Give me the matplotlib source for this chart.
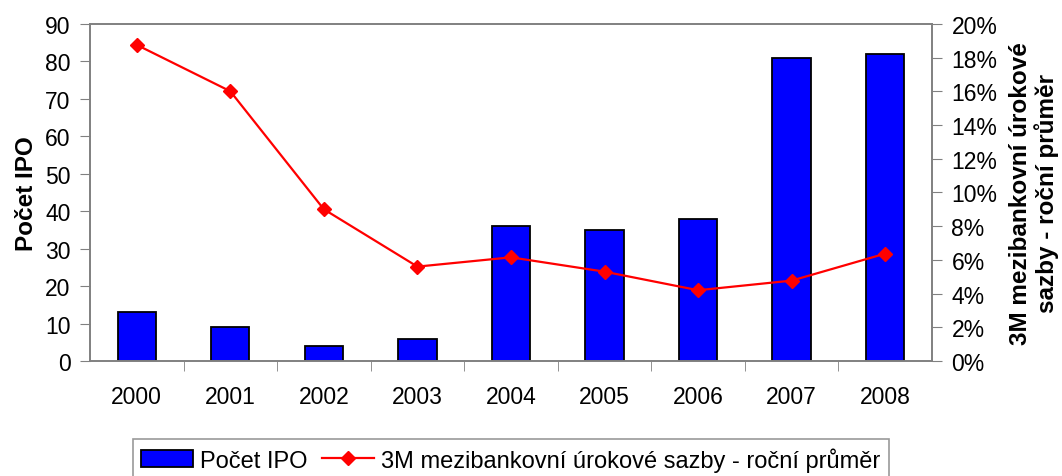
import matplotlib.pyplot as plt
import numpy as np
from matplotlib.ticker import FuncFormatter

plt.rcParams['font.family'] = ['Liberation Sans', 'DejaVu Sans']

years = ['2000', '2001', '2002', '2003', '2004', '2005', '2006', '2007', '2008']
ipo_count = [13, 9, 4, 6, 36, 35, 38, 81, 82]
rate_pct = [18.75, 16.0, 9.0, 5.6, 6.15, 5.3, 4.2, 4.77, 6.37]

grey = '#808080'
x = np.arange(len(years))

fig = plt.figure(figsize=(10.62, 4.77), dpi=100)
ax = fig.add_axes([0.0847, 0.241, 0.7929, 0.707])
bars = ax.bar(x, ipo_count, width=0.41, color='#0000ff', edgecolor='black',
              linewidth=1.3, label='Počet IPO', zorder=2)
ax.set_xlim(-0.5, len(years) - 0.5)
ax.set_ylim(0, 90)
ax.set_yticks(range(0, 91, 10))
ax.set_xticks(x)
ax.set_xticklabels(years)
ax.set_xticks(x[:-1] + 0.5, minor=True)
ax.tick_params(axis='x', which='major', length=0, labelsize=16.5, pad=17)
ax.tick_params(axis='x', which='minor', length=7, color=grey, direction='out')
ax.tick_params(axis='y', length=7, color=grey, labelsize=16.5, direction='out', pad=7)
ax.set_ylabel('Počet IPO', fontsize=17.5, fontweight='bold', labelpad=5)
for s in ax.spines.values():
    s.set_color(grey)
    s.set_linewidth(1.2)

ax2 = ax.twinx()
line, = ax2.plot(x, rate_pct, color='#ff0000', linewidth=1.6, marker='D',
                 markersize=7, label='3M mezibankovní úrokové sazby - roční průměr', zorder=3)
ax2.set_ylim(0, 20)
ax2.set_yticks(range(0, 21, 2))
ax2.yaxis.set_major_formatter(FuncFormatter(lambda v, p: '%d%%' % v))
ax2.tick_params(axis='y', length=7, color=grey, labelsize=16.5, direction='out', pad=7)
ax2.set_ylabel('3M mezibankovní úrokové\nsazby - roční průměr', fontsize=17.5,
               fontweight='bold', labelpad=8, linespacing=1.15)
for s in ax2.spines.values():
    s.set_color(grey)
    s.set_linewidth(1.2)

leg = fig.legend([bars, line], [bars.get_label(), line.get_label()],
                 loc='upper center', bbox_to_anchor=(0.481, 0.078), ncol=2,
                 fontsize=17, frameon=True, fancybox=False, edgecolor=grey,
                 handlelength=2.2, columnspacing=0.6, handletextpad=0.3,
                 borderpad=0.35, borderaxespad=0)
leg.get_frame().set_linewidth(1.2)

fig.savefig('out.png', dpi=100)
